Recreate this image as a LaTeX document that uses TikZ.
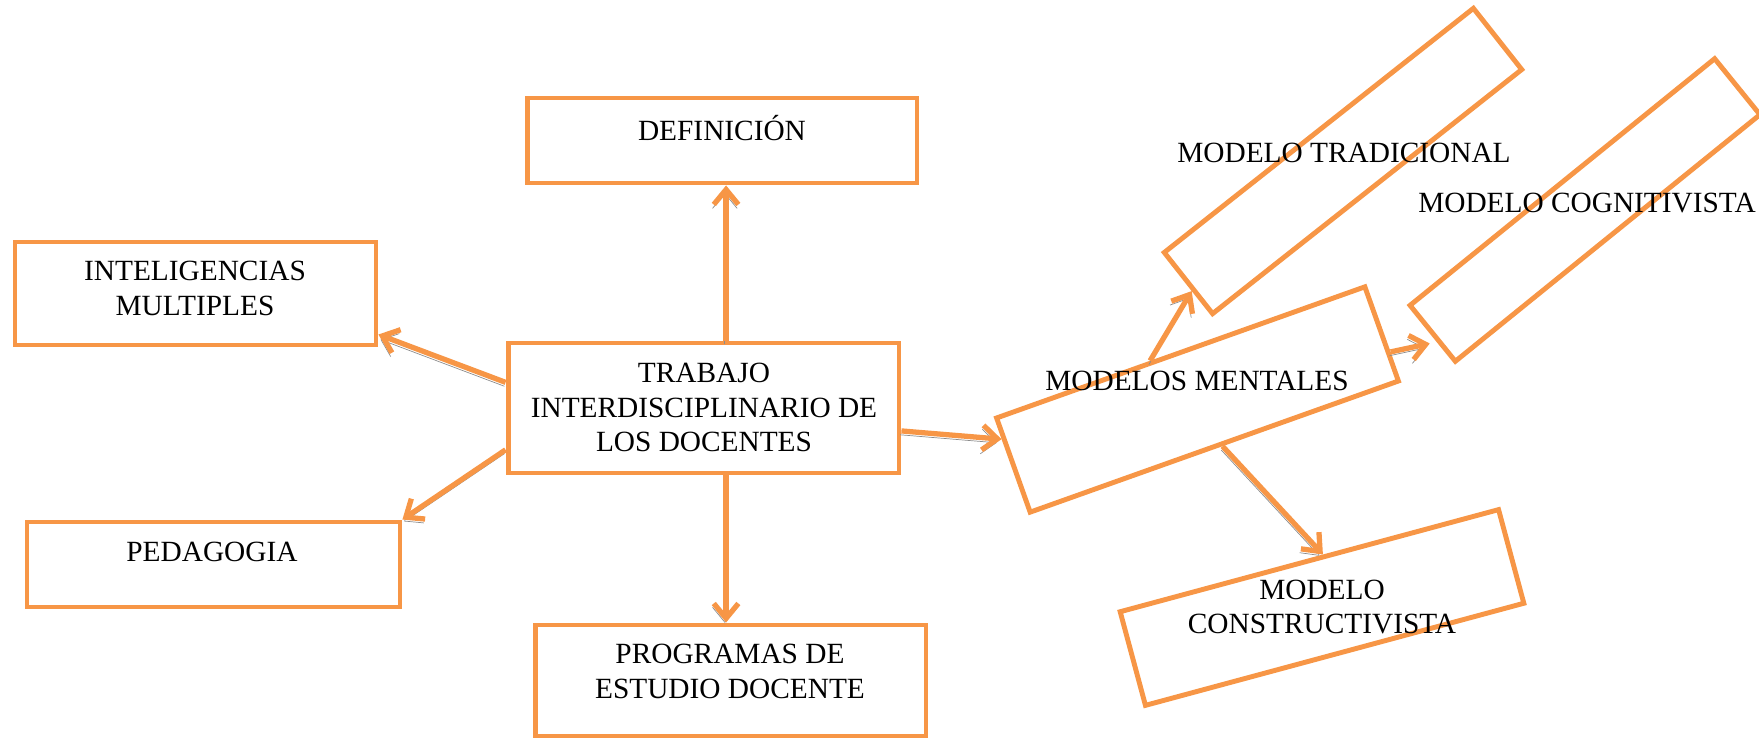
\documentclass[tikz,border=0pt]{standalone}
\usepackage{fontspec}
\setmainfont{Liberation Serif}
\usetikzlibrary{arrows.meta,calc}
\definecolor{boxorange}{RGB}{247,150,70}
\definecolor{shadowgray}{RGB}{140,140,140}
\tikzset{
  box/.style={draw=boxorange, line width=2.8pt, inner sep=0pt},
  txt/.style={align=center, inner sep=0pt, font=\fontsize{16.7}{19.6}\selectfont},
  conn/.style={draw=boxorange, line width=3pt, -{Straight Barb[length=8.5pt,width=14pt]},
    preaction={draw=shadowgray, transform canvas={shift={(-0.7pt,-2.2pt)}}}}
}
\begin{document}
\begin{tikzpicture}[x=0.02cm, y=-0.02cm]
    \useasboundingbox (0,0) rectangle (1759,739);
    % Central box and the straight boxes round it
    \node[box, minimum width=7.82cm, minimum height=2.6cm] (trab) at (703.5,408) {};
    \node[box, minimum width=7.8cm, minimum height=1.7cm] (def) at (722,140.5) {};
    \node[box, minimum width=7.22cm, minimum height=2.06cm] (intel) at (195.5,293.5) {};
    \node[box, minimum width=7.46cm, minimum height=1.7cm] (ped) at (213.5,564.5) {};
    \node[box, minimum width=7.82cm, minimum height=2.22cm] (prog) at (730.5,680.5) {};
    % Tilted boxes of the models
    \node[box, minimum width=7.82cm, minimum height=2cm, rotate=19.6] (mm) at (1197.5,399.5) {};
    \node[box, minimum width=7.88cm, minimum height=1.56cm, rotate=38.3] (trad) at (1343,161) {};
    \node[box, minimum width=7.84cm, minimum height=1.44cm, rotate=39] (cog) at (1585,210) {};
    \node[box, minimum width=7.84cm, minimum height=1.94cm, rotate=15.1] (cons) at (1322,607.5) {};
    % Texts
    \node[txt] (trab-t) at (704,407.5) {TRABAJO\\INTERDISCIPLINARIO DE\\LOS DOCENTES};
    \node[txt] (def-t) at (722,128) {DEFINICIÓN};
    \node[txt] (intel-t) at (195,288.5) {INTELIGENCIAS\\MULTIPLES};
    \node[txt] (ped-t) at (212,552) {PEDAGOGIA};
    \node[txt] (prog-t) at (730,671.5) {PROGRAMAS DE\\ESTUDIO DOCENTE};
    \node[txt] (mm-t) at (1197,381) {MODELOS MENTALES};
    \node[txt] (trad-t) at (1344,153) {MODELO TRADICIONAL};
    \node[txt] (cog-t) at (1587,203) {MODELO COGNITIVISTA};
    \node[txt] (cons-t) at (1322,607) {MODELO\\CONSTRUCTIVISTA};
    % Arrows from the central box
    \coordinate (up) at ($(trab.north west)!0.557!(trab.north east)$);
    \coordinate (down) at ($(trab.south west)!0.557!(trab.south east)$);
    \draw[conn] (up) -- (up |- def.south);
    \draw[conn] (down) -- (down |- prog.north);
    \draw[conn] ($(trab.north west)!0.31!(trab.south west)$) -- ($(intel.south east)!0.12!(intel.north east)$);
    \draw[conn] ($(trab.north west)!0.81!(trab.south west)$) -- (ped.north east);
    \draw[conn] ($(trab.north east)!0.67!(trab.south east)$) -- ($(mm.north west)!0.23!(mm.south west)$);
    % Arrows from the mental models
    \draw[conn] ($(mm.north west)!0.42!(mm.north east)$) -- ($(trad.north west)!0.6!(trad.south west)$);
    \draw[conn, shorten >=4pt] ($(mm.north east)!0.69!(mm.south east)$) -- ($(cog.north west)!0.62!(cog.south west)$);
    \draw[conn] ($(mm.south west)!0.52!(mm.south east)$) -- ($(cons.north west)!0.537!(cons.north east)$);
\end{tikzpicture}
\end{document}
